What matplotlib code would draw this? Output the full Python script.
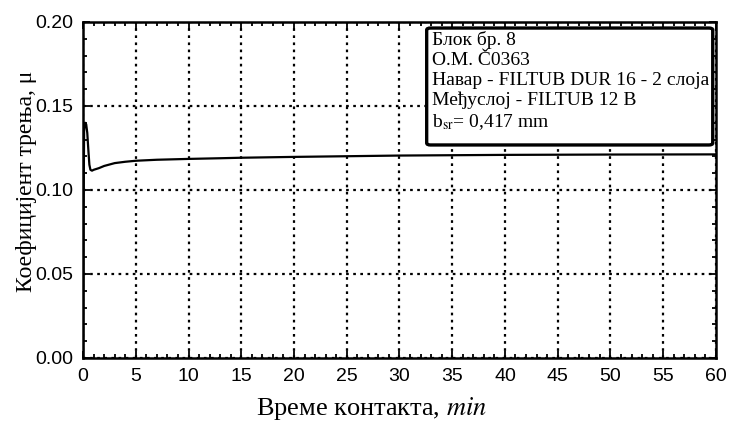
import matplotlib.pyplot as plt
from matplotlib.patches import FancyBboxPatch
from matplotlib.ticker import MultipleLocator

# vreme kontakta (min) i koeficijent trenja
t = [0, 0.05, 0.1, 0.15, 0.2, 0.3, 0.4, 0.5, 0.6, 0.7, 0.85, 1.0, 1.5, 2, 3, 4, 5,
     7, 10, 13, 15, 20, 25, 30, 40, 50, 60]
mu = [0.0, 0.09, 0.135, 0.139, 0.14, 0.139, 0.134, 0.124, 0.115, 0.112, 0.1115, 0.112,
      0.113, 0.1143, 0.116, 0.1168, 0.1174, 0.118, 0.1185, 0.1189, 0.1192, 0.1197,
      0.1201, 0.1205, 0.1209, 0.1211, 0.1212]

legend_lines = ["Блок бр. 8", "О.М. Č0363", "Навар - FILTUB DUR 16 - 2 слоја",
                "Међуслој - FILTUB 12 B", r"b$_{\mathrm{sr}}$= 0,417 mm"]

plt.rcParams['mathtext.fontset'] = 'stix'
serif = 'Liberation Serif'
sans = 'Liberation Sans'

fig = plt.figure(figsize=(7.35, 4.23), dpi=100)
ax = fig.add_axes([0.113, 0.1537, 0.861, 0.7943])

ax.plot(t, mu, color='black', lw=1.6)

ax.set_xlim(0, 60)
ax.set_ylim(0, 0.20)
ax.xaxis.set_major_locator(MultipleLocator(5))
ax.xaxis.set_minor_locator(MultipleLocator(1))
ax.yaxis.set_major_locator(MultipleLocator(0.05))
ax.yaxis.set_minor_locator(MultipleLocator(0.01))
ax.yaxis.set_major_formatter(plt.FormatStrFormatter('%.2f'))

ax.tick_params(which='both', direction='in', top=True, right=True, width=1.3)
ax.tick_params(which='major', length=5, labelsize=14, pad=7)
ax.tick_params(which='minor', length=3)
for lab in ax.get_xticklabels() + ax.get_yticklabels():
    lab.set_fontfamily(sans)
for sp in ax.spines.values():
    sp.set_linewidth(1.8)

ax.grid(True, which='major', color='black', linestyle=(0, (1.2, 2.0)), lw=1.6)

ax.set_xlabel(r"Време контакта, $\mathit{min}$", family=serif, fontsize=19)
ax.set_ylabel("Коефицијент трења, μ", family=serif, fontsize=17)
ax.xaxis.set_label_coords(0.455, -0.11)
ax.yaxis.set_label_coords(-0.073, 0.527)

box = FancyBboxPatch((0.543, 0.634), 0.452, 0.348, transform=ax.transAxes,
                     boxstyle='round,pad=0,rounding_size=0.006',
                     facecolor='white', edgecolor='black', lw=2.4, zorder=5)
ax.add_patch(box)
ax.text(0.552, 0.972, "\n".join(legend_lines), transform=ax.transAxes,
        family=serif, fontsize=14, va='top', ha='left', linespacing=1.2, zorder=6)

fig.savefig('out.png', dpi=100)
